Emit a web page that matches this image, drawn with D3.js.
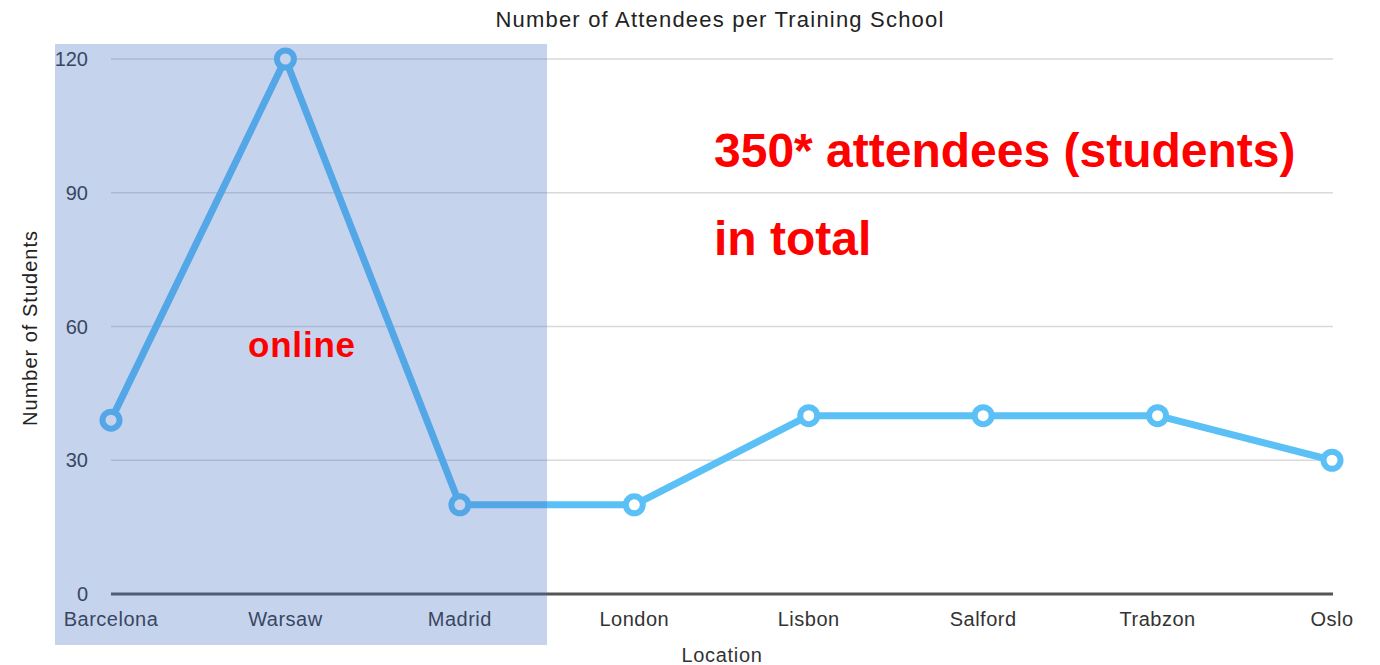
<!DOCTYPE html>
<html>
<head>
<meta charset="utf-8">
<script src="https://cdn.jsdelivr.net/npm/d3@7"></script>
<style>
  body { margin: 0; background: #fff; }
  svg text { font-family: "Liberation Sans", Arial, sans-serif; }
</style>
</head>
<body>
<svg id="chart" width="1380" height="665"></svg>
<script>
// Data
const locations = ["Barcelona", "Warsaw", "Madrid", "London", "Lisbon", "Salford", "Trabzon", "Oslo"];
const students = [39, 120, 20, 20, 40, 40, 40, 30];
const yTicks = [0, 30, 60, 90, 120];
const onlineLocations = ["Barcelona", "Warsaw", "Madrid"];

const svg = d3.select("#chart");

// Scales
const xScale = d3.scalePoint()
    .domain(locations)
    .range([111, 1332]);

const yScale = d3.scaleLinear()
    .domain([0, 120])
    .range([594, 59]);

// Gridlines
svg.append("g")
    .selectAll("line")
    .data(yTicks.filter((t) => t > 0))
    .enter().append("line")
    .attr("x1", 111)
    .attr("x2", 1333)
    .attr("y1", (t) => yScale(t))
    .attr("y2", (t) => yScale(t))
    .attr("stroke", "#d9d9d9")
    .attr("stroke-width", 1.5);

// Baseline
svg.append("line")
    .attr("x1", 111)
    .attr("x2", 1333)
    .attr("y1", yScale(0))
    .attr("y2", yScale(0))
    .attr("stroke", "#555")
    .attr("stroke-width", 3);

// Y tick labels
svg.append("g")
    .selectAll("text")
    .data(yTicks)
    .enter().append("text")
    .attr("x", 88)
    .attr("y", (t) => yScale(t) + 7)
    .attr("text-anchor", "end")
    .attr("font-size", 20)
    .attr("fill", "#333")
    .text((t) => t);

// X tick labels
svg.append("g")
    .selectAll("text")
    .data(locations)
    .enter().append("text")
    .attr("x", (d) => xScale(d))
    .attr("y", 626)
    .attr("text-anchor", "middle")
    .attr("font-size", 20)
    .attr("letter-spacing", 0.5)
    .attr("fill", "#333")
    .text((d) => d);

// Titles
svg.append("text")
    .attr("x", 720)
    .attr("y", 27)
    .attr("text-anchor", "middle")
    .attr("font-size", 22)
    .attr("letter-spacing", 1.2)
    .attr("fill", "#222")
    .text("Number of Attendees per Training School");

svg.append("text")
    .attr("x", 722)
    .attr("y", 662)
    .attr("text-anchor", "middle")
    .attr("font-size", 20)
    .attr("letter-spacing", 0.7)
    .attr("fill", "#333")
    .text("Location");

svg.append("text")
    .attr("transform", "translate(37 328) rotate(-90)")
    .attr("text-anchor", "middle")
    .attr("font-size", 20)
    .attr("letter-spacing", 1)
    .attr("fill", "#222")
    .text("Number of Students");

// Line
const points = locations.map((loc, i) => [xScale(loc), yScale(students[i])]);

svg.append("path")
    .attr("d", d3.line()(points))
    .attr("fill", "none")
    .attr("stroke", "#5ac0f6")
    .attr("stroke-width", 7)
    .attr("stroke-linejoin", "round");

svg.append("g")
    .selectAll("circle")
    .data(points)
    .enter().append("circle")
    .attr("cx", (p) => p[0])
    .attr("cy", (p) => p[1])
    .attr("r", 8.5)
    .attr("fill", "#fff")
    .attr("stroke", "#5ac0f6")
    .attr("stroke-width", 6);

// Online overlay
const half = xScale.step() / 2;
const lastOnline = xScale(onlineLocations[onlineLocations.length - 1]);
svg.append("rect")
    .attr("x", 55)
    .attr("y", 44)
    .attr("width", lastOnline + half - 55)
    .attr("height", 601)
    .attr("fill", "#4672c4")
    .attr("opacity", 0.31);

svg.append("text")
    .attr("x", 248)
    .attr("y", 357)
    .attr("font-size", 35)
    .attr("font-weight", "bold")
    .attr("letter-spacing", 0.8)
    .attr("fill", "#ff0000")
    .text("online");

// Annotation
svg.append("text")
    .attr("x", 714)
    .attr("y", 167)
    .attr("font-size", 48)
    .attr("font-weight", "bold")
    .attr("fill", "#ff0000")
    .text("350* attendees (students)");

svg.append("text")
    .attr("x", 714)
    .attr("y", 255)
    .attr("font-size", 48)
    .attr("font-weight", "bold")
    .attr("fill", "#ff0000")
    .text("in total");
</script>
</body>
</html>
